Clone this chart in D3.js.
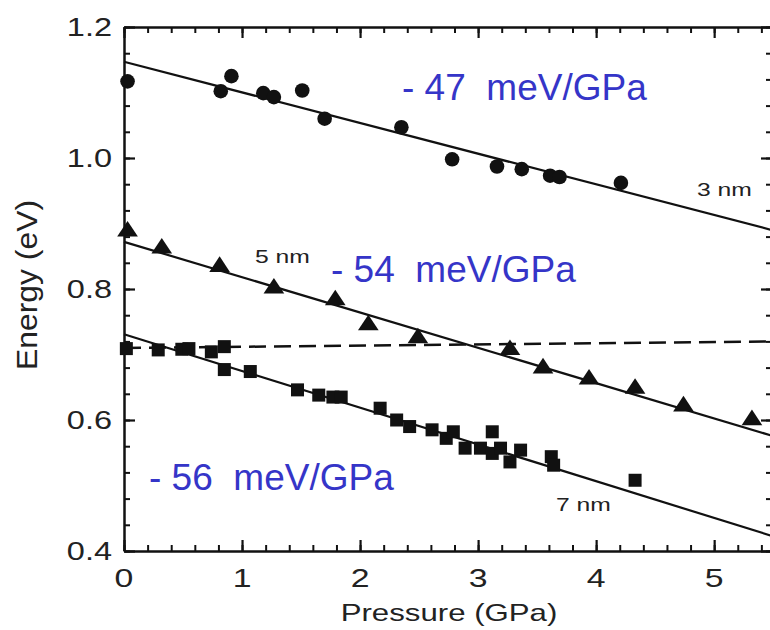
<!DOCTYPE html>
<html>
<head>
<meta charset="utf-8">
<script src="https://cdn.jsdelivr.net/npm/d3@7"></script>
<style>
  body { margin: 0; background: #fff; }
  svg { display: block; font-family: "Liberation Sans", Arial, sans-serif; }
</style>
</head>
<body>
<div id="chart"></div>
<script>
// 3 nm dots (pressure GPa, energy eV)
const dots3nm = [
  [0.03, 1.117], [0.82, 1.102], [0.91, 1.125], [1.18, 1.099], [1.27, 1.093],
  [1.51, 1.103], [1.70, 1.060], [2.35, 1.047], [2.78, 0.998], [3.16, 0.987],
  [3.37, 0.983], [3.61, 0.973], [3.69, 0.971], [4.21, 0.962]
];
// 5 nm triangles
const tri5nm = [
  [0.03, 0.888], [0.32, 0.862], [0.81, 0.834], [1.27, 0.801], [1.79, 0.783],
  [2.07, 0.745], [2.49, 0.725], [3.27, 0.707], [3.55, 0.679], [3.94, 0.662],
  [4.33, 0.648], [4.74, 0.621], [5.32, 0.600]
];
// 7 nm squares
const sq7nm = [
  [0.02, 0.709], [0.29, 0.707], [0.49, 0.708], [0.55, 0.709], [0.74, 0.704],
  [0.85, 0.712], [0.85, 0.677], [1.07, 0.674], [1.47, 0.646], [1.65, 0.638],
  [1.77, 0.635], [1.84, 0.635], [2.17, 0.618], [2.31, 0.600], [2.42, 0.590],
  [2.61, 0.585], [2.73, 0.572], [2.79, 0.582], [2.89, 0.557], [3.02, 0.557],
  [3.12, 0.582], [3.12, 0.549], [3.19, 0.557], [3.27, 0.536], [3.36, 0.554],
  [3.62, 0.544], [3.64, 0.531], [4.33, 0.508]
];
// straight fits, given by their two end points
const fit3nm = [[0, 1.147], [5.49, 0.890]];
const fit5nm = [[0, 0.872], [5.49, 0.576]];
const fit7nm = [[0, 0.731], [5.49, 0.423]];
const dashedRef = [[0, 0.710], [5.49, 0.720]];

const xTicks = [0, 1, 2, 3, 4, 5];
const yTicks = [0.4, 0.6, 0.8, 1.0, 1.2];
const slopeLabels = ["- 47  meV/GPa", "- 54  meV/GPa", "- 56  meV/GPa"];
const sizeLabels = ["3 nm", "5 nm", "7 nm"];

const width = 770, height = 630;
const svg = d3.select("#chart").append("svg")
  .attr("width", width).attr("height", height);

const x = d3.scaleLinear().domain([0, 5.49]).range([124, 772]);
const y = d3.scaleLinear().domain([0.4, 1.2]).range([551, 27]);

const ink = "#111";
const sx = 1.3; // the scan is stretched sideways

function stretchedText(px, py, str, size, anchor) {
  return svg.append("text")
    .attr("transform", `translate(${px},${py}) scale(${sx},1)`)
    .attr("text-anchor", anchor)
    .attr("font-size", size)
    .attr("fill", "#222")
    .text(str);
}

// axes with inward ticks
const minorX = d3.range(0, 5.5, 0.2);
const minorY = d3.range(0.4, 1.201, 0.04);

function axisPair(axisFn, scale, translate, major, minor) {
  svg.append("g").attr("transform", translate)
    .call(axisFn(scale).tickValues(minor).tickSize(-6).tickFormat(""))
    .call(g => g.select(".domain").remove())
    .call(g => g.selectAll("line").attr("stroke", ink).attr("stroke-width", 2));
  svg.append("g").attr("transform", translate)
    .call(axisFn(scale).tickValues(major).tickSize(-11).tickSizeOuter(0).tickFormat(""))
    .call(g => g.select(".domain").attr("stroke", ink).attr("stroke-width", 2.5))
    .call(g => g.selectAll("line").attr("stroke", ink).attr("stroke-width", 2.2));
}
axisPair(d3.axisBottom, x, `translate(0,${y(0.4)})`, xTicks, minorX);
axisPair(d3.axisTop, x, `translate(0,${y(1.2)})`, xTicks, minorX);
axisPair(d3.axisLeft, y, `translate(${x(0)},0)`, yTicks, minorY);
axisPair(d3.axisRight, y, `translate(${x(5.49)},0)`, yTicks, minorY);

// tick labels
xTicks.forEach(t => stretchedText(x(t), 587, String(t), 26, "middle"));
yTicks.forEach(t => stretchedText(112, y(t) + 9, t.toFixed(1), 25, "end"));

// axis titles
stretchedText(449, 621, "Pressure (GPa)", 24, "middle");
svg.append("text")
  .attr("transform", `translate(37,285) rotate(-90)`)
  .attr("text-anchor", "middle")
  .attr("font-size", 29)
  .attr("fill", "#222")
  .attr("textLength", 170)
  .attr("lengthAdjust", "spacingAndGlyphs")
  .text("Energy (eV)");

// fit lines
const line = d3.line().x(d => x(d[0])).y(d => y(d[1]));
[fit3nm, fit5nm, fit7nm].forEach(f => {
  svg.append("path").datum(f)
    .attr("d", line).attr("fill", "none")
    .attr("stroke", ink).attr("stroke-width", 2.2);
});
svg.append("path").datum(dashedRef)
  .attr("d", line).attr("fill", "none")
  .attr("stroke", ink).attr("stroke-width", 2.5)
  .attr("stroke-dasharray", "17,8");

// markers
svg.append("g").selectAll("circle").data(dots3nm).join("circle")
  .attr("cx", d => x(d[0])).attr("cy", d => y(d[1]))
  .attr("r", 7.3).attr("fill", ink);

const tri = d3.symbol().type(d3.symbolTriangle).size(140);
svg.append("g").selectAll("path").data(tri5nm).join("path")
  .attr("transform", d => `translate(${x(d[0])},${y(d[1])}) scale(1.15,1)`)
  .attr("d", tri).attr("fill", ink);

svg.append("g").selectAll("rect").data(sq7nm).join("rect")
  .attr("x", d => x(d[0]) - 6.5).attr("y", d => y(d[1]) - 6.5)
  .attr("width", 13).attr("height", 13).attr("fill", ink);

// size labels
stretchedText(697, 196, sizeLabels[0], 19, "start");
stretchedText(255, 263, sizeLabels[1], 19, "start");
stretchedText(556, 511, sizeLabels[2], 19, "start");

// slope labels (blue)
const blue = "#3535c8";
[[402, 100], [331, 282], [149, 490]].forEach((p, i) => {
  svg.append("text")
    .attr("x", p[0]).attr("y", p[1])
    .attr("font-size", 37)
    .attr("fill", blue)
    .attr("xml:space", "preserve")
    .style("white-space", "pre")
    .text(slopeLabels[i]);
});
</script>
</body>
</html>
